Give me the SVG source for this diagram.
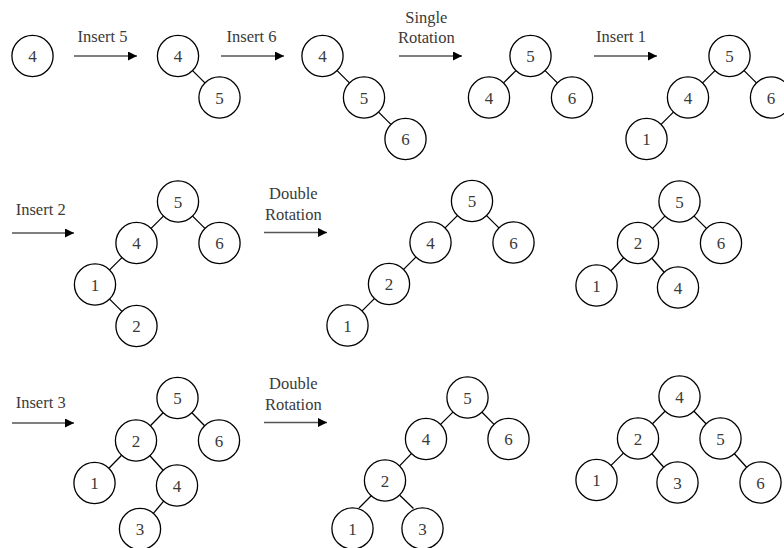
<svg xmlns="http://www.w3.org/2000/svg" width="784" height="548" viewBox="0 0 784 548">
<defs>
<marker id="ah" markerUnits="userSpaceOnUse" markerWidth="10" markerHeight="9" refX="9" refY="4.5" orient="auto">
<path d="M0,0 L9,4.5 L0,9 z" fill="#000"/>
</marker>
<style>
.n circle{fill:#fff;stroke:#000;stroke-width:1.3}
.n text{font-size:17px;fill:#3a3a3a;text-anchor:middle}
.e line{stroke:#000;stroke-width:1.3}
.a line{stroke:#555;stroke-width:1.6;marker-end:url(#ah)}
.lbl{font-size:16.5px;fill:#3a3a3a}
.c{text-anchor:middle}
</style>
</defs>
<rect width="784" height="548" fill="#fff"/>

<g id="connectors">
<g class="e">
<line x1="192.6" y1="70.6" x2="204.9" y2="82.9"/>
<line x1="337.1" y1="70.6" x2="349.4" y2="82.9"/>
<line x1="378.6" y1="112.1" x2="390.9" y2="124.4"/>
<line x1="515.9" y1="70.6" x2="503.6" y2="82.9"/>
<line x1="545.1" y1="70.6" x2="557.4" y2="82.9"/>
<line x1="714.9" y1="70.6" x2="702.6" y2="82.9"/>
<line x1="744.1" y1="70.6" x2="756.4" y2="82.9"/>
<line x1="673.4" y1="112.1" x2="661.1" y2="124.4"/>

<line x1="163.4" y1="216.1" x2="151.1" y2="228.4"/>
<line x1="192.6" y1="216.1" x2="204.9" y2="228.4"/>
<line x1="121.9" y1="257.6" x2="109.6" y2="269.9"/>
<line x1="109.6" y1="299.1" x2="121.9" y2="311.4"/>

<line x1="457.4" y1="215.6" x2="445.1" y2="227.9"/>
<line x1="486.6" y1="215.6" x2="498.9" y2="227.9"/>
<line x1="415.9" y1="257.1" x2="403.6" y2="269.4"/>
<line x1="374.4" y1="298.6" x2="362.1" y2="310.9"/>

<line x1="664.9" y1="216.1" x2="652.6" y2="228.4"/>
<line x1="694.1" y1="216.1" x2="706.4" y2="228.4"/>
<line x1="623.6" y1="257.7" x2="610.9" y2="270.8"/>
<line x1="651.8" y1="258.3" x2="664.2" y2="272.2"/>

<line x1="163.1" y1="412.7" x2="150.4" y2="425.8"/>
<line x1="191.9" y1="412.7" x2="204.6" y2="425.8"/>
<line x1="121.6" y1="455.2" x2="108.9" y2="468.3"/>
<line x1="149.9" y1="455.7" x2="163.1" y2="470.3"/>
<line x1="163.7" y1="501.2" x2="153.4" y2="513.3"/>

<line x1="452.9" y1="412.1" x2="440.6" y2="424.4"/>
<line x1="482" y1="412.2" x2="494" y2="424.4"/>
<line x1="411.4" y1="453.6" x2="399.6" y2="465.9"/>
<line x1="372" y1="495" x2="359" y2="508"/>
<line x1="400" y1="495.5" x2="413.5" y2="508.5"/>

<line x1="665" y1="411.2" x2="652.5" y2="423.8"/>
<line x1="694" y1="411.2" x2="706" y2="423.8"/>
<line x1="623.4" y1="453.1" x2="611.1" y2="465.4"/>
<line x1="651.8" y1="453.8" x2="663.7" y2="467.2"/>
<line x1="734.4" y1="453.7" x2="746.6" y2="467.3"/>
</g>
<g class="a">
<line x1="74" y1="56" x2="137" y2="56"/>
<line x1="221" y1="56" x2="284" y2="56"/>
<line x1="399" y1="56" x2="462" y2="56"/>
<line x1="594" y1="56" x2="657" y2="56"/>
<line x1="12" y1="233" x2="74" y2="233"/>
<line x1="264" y1="232.5" x2="327" y2="232.5"/>
<line x1="12" y1="423" x2="74" y2="423"/>
<line x1="264" y1="422.5" x2="327" y2="422.5"/>
</g>
</g>

<g id="labels" font-family="'Liberation Serif', 'DejaVu Serif', serif">
<text class="lbl" x="77.5" y="41.5">Insert 5</text>
<text class="lbl" x="226.5" y="41.5">Insert 6</text>
<text class="lbl c" x="426.3" y="22.7">Single</text>
<text class="lbl c" x="426.3" y="43.3">Rotation</text>
<text class="lbl" x="596" y="41.5">Insert 1</text>
<text class="lbl" x="15.7" y="215">Insert 2</text>
<text class="lbl c" x="293.3" y="199">Double</text>
<text class="lbl c" x="293.3" y="219.5">Rotation</text>
<text class="lbl" x="15.7" y="408.3">Insert 3</text>
<text class="lbl c" x="293.3" y="389.3">Double</text>
<text class="lbl c" x="293.3" y="410">Rotation</text>
</g>

<g id="nodes" font-family="'Liberation Serif', 'DejaVu Serif', serif">
<g id="tA" class="n">
<g id="a4"><circle cx="32.5" cy="56" r="20.6"/><text x="32.5" y="62">4</text></g>
</g>
<g id="tB" class="n">
<g id="b4"><circle cx="178" cy="56" r="20.6"/><text x="178" y="62">4</text></g>
<g id="b5"><circle cx="219.5" cy="97.5" r="20.6"/><text x="219.5" y="103.5">5</text></g>
</g>
<g id="tC" class="n">
<g id="c4"><circle cx="322.5" cy="56" r="20.6"/><text x="322.5" y="62">4</text></g>
<g id="c5"><circle cx="364" cy="97.5" r="20.6"/><text x="364" y="103.5">5</text></g>
<g id="c6"><circle cx="405.5" cy="139" r="20.6"/><text x="405.5" y="145">6</text></g>
</g>
<g id="tD" class="n">
<g id="d5"><circle cx="530.5" cy="56" r="20.6"/><text x="530.5" y="62">5</text></g>
<g id="d4"><circle cx="489" cy="97.5" r="20.6"/><text x="489" y="103.5">4</text></g>
<g id="d6"><circle cx="572" cy="97.5" r="20.6"/><text x="572" y="103.5">6</text></g>
</g>
<g id="tE" class="n">
<g id="e5"><circle cx="729.5" cy="56" r="20.6"/><text x="729.5" y="62">5</text></g>
<g id="e4"><circle cx="688" cy="97.5" r="20.6"/><text x="688" y="103.5">4</text></g>
<g id="e6"><circle cx="771" cy="97.5" r="20.6"/><text x="771" y="103.5">6</text></g>
<g id="e1"><circle cx="646.5" cy="139" r="20.6"/><text x="646.5" y="145">1</text></g>
</g>

<g id="tF" class="n">
<g id="f5"><circle cx="178" cy="201.5" r="20.6"/><text x="178" y="207.5">5</text></g>
<g id="f4"><circle cx="136.5" cy="243" r="20.6"/><text x="136.5" y="249">4</text></g>
<g id="f6"><circle cx="219.5" cy="243" r="20.6"/><text x="219.5" y="249">6</text></g>
<g id="f1"><circle cx="95" cy="284.5" r="20.6"/><text x="95" y="290.5">1</text></g>
<g id="f2"><circle cx="136.5" cy="326" r="20.6"/><text x="136.5" y="332">2</text></g>
</g>
<g id="tG" class="n">
<g id="g5"><circle cx="472" cy="201" r="20.6"/><text x="472" y="207">5</text></g>
<g id="g4"><circle cx="430.5" cy="242.5" r="20.6"/><text x="430.5" y="248.5">4</text></g>
<g id="g6"><circle cx="513.5" cy="242.5" r="20.6"/><text x="513.5" y="248.5">6</text></g>
<g id="g2"><circle cx="389" cy="284" r="20.6"/><text x="389" y="290">2</text></g>
<g id="g1"><circle cx="347.5" cy="325.5" r="20.6"/><text x="347.5" y="331.5">1</text></g>
</g>
<g id="tH" class="n">
<g id="h5"><circle cx="679.5" cy="201.5" r="20.6"/><text x="679.5" y="207.5">5</text></g>
<g id="h2"><circle cx="638" cy="243" r="20.6"/><text x="638" y="249">2</text></g>
<g id="h6"><circle cx="721" cy="243" r="20.6"/><text x="721" y="249">6</text></g>
<g id="h1"><circle cx="596.5" cy="285.5" r="20.6"/><text x="596.5" y="291.5">1</text></g>
<g id="h4"><circle cx="678" cy="287.5" r="20.6"/><text x="678" y="293.5">4</text></g>
</g>

<g id="tI" class="n">
<g id="i5"><circle cx="177.5" cy="398" r="20.6"/><text x="177.5" y="404">5</text></g>
<g id="i2"><circle cx="136" cy="440.5" r="20.6"/><text x="136" y="446.5">2</text></g>
<g id="i6"><circle cx="219" cy="440.5" r="20.6"/><text x="219" y="446.5">6</text></g>
<g id="i1"><circle cx="94.5" cy="483" r="20.6"/><text x="94.5" y="489">1</text></g>
<g id="i4"><circle cx="177" cy="485.5" r="20.6"/><text x="177" y="491.5">4</text></g>
<g id="i3"><circle cx="140" cy="529" r="20.6"/><text x="140" y="535">3</text></g>
</g>
<g id="tJ" class="n">
<g id="j5"><circle cx="467.5" cy="397.5" r="20.6"/><text x="467.5" y="403.5">5</text></g>
<g id="j4"><circle cx="426" cy="439" r="20.6"/><text x="426" y="445">4</text></g>
<g id="j6"><circle cx="508.5" cy="439" r="20.6"/><text x="508.5" y="445">6</text></g>
<g id="j2"><circle cx="385" cy="480.5" r="20.6"/><text x="385" y="486.5">2</text></g>
<g id="j1"><circle cx="352.5" cy="528.5" r="20.6"/><text x="352.5" y="534.5">1</text></g>
<g id="j3"><circle cx="422.5" cy="528.5" r="20.6"/><text x="422.5" y="534.5">3</text></g>
</g>
<g id="tK" class="n">
<g id="k4"><circle cx="679.5" cy="396.5" r="20.6"/><text x="679.5" y="402.5">4</text></g>
<g id="k2"><circle cx="638" cy="438.5" r="20.6"/><text x="638" y="444.5">2</text></g>
<g id="k5"><circle cx="720.5" cy="438.5" r="20.6"/><text x="720.5" y="444.5">5</text></g>
<g id="k1"><circle cx="596.5" cy="480" r="20.6"/><text x="596.5" y="486">1</text></g>
<g id="k3"><circle cx="677.5" cy="482.5" r="20.6"/><text x="677.5" y="488.5">3</text></g>
<g id="k6"><circle cx="760.5" cy="482.5" r="20.6"/><text x="760.5" y="488.5">6</text></g>
</g>
</g>
</svg>
